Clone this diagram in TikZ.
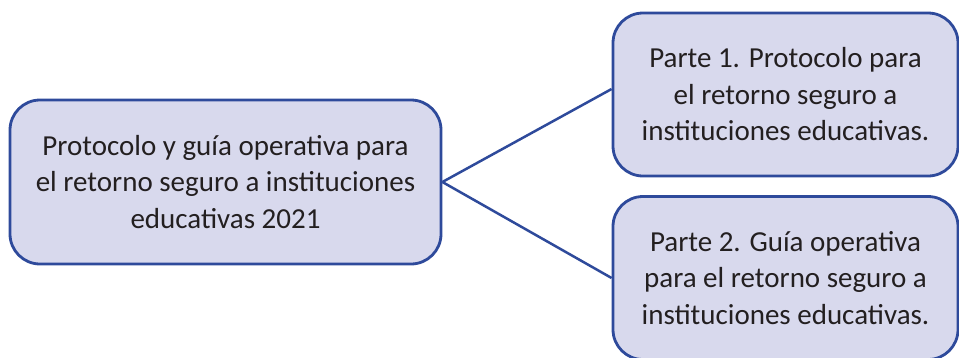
\documentclass[tikz,border=0pt]{standalone}
\usepackage{fontspec}
\setmainfont{Carlito}
\definecolor{boxfill}{RGB}{216,217,237}
\definecolor{boxline}{RGB}{46,74,155}
\definecolor{txt}{RGB}{35,31,32}
\begin{document}
\begin{tikzpicture}[x=1pt,y=-1pt,
  box/.style={draw=boxline, fill=boxfill, line width=2.8pt, rounded corners=30pt,
    align=center, text=txt, font=\fontsize{29}{36.5}\selectfont, inner sep=0pt},
  conn/.style={draw=boxline, line width=2.5pt}]
\useasboundingbox (0,0) rectangle (959,357);
\node[box, minimum width=431pt, minimum height=164pt] (main) at (225.5,182)
  {Protocolo y guía operativa para\\el retorno seguro a instituciones\\educativas 2021};
\node[box, minimum width=345pt, minimum height=163pt] (p1) at (785.5,94.5)
  {Parte 1. Protocolo para\\el retorno seguro a\\instituciones educativas.};
\node[box, minimum width=345pt, minimum height=163pt] (p2) at (785.5,278)
  {Parte 2. Guía operativa\\para el retorno seguro a\\instituciones educativas.};
\draw[conn] (main.east) -- ([yshift=5.5pt]p1.west);
\draw[conn] (main.east) -- (p2.west);
\end{tikzpicture}
\end{document}
